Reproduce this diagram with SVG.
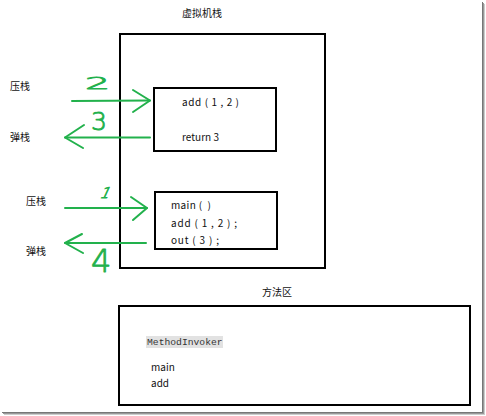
<svg xmlns="http://www.w3.org/2000/svg" width="486" height="416" viewBox="0 0 486 416">
<style>
.t{font-family:"Noto Sans CJK SC","Liberation Sans",sans-serif;font-size:10px;fill:#111}
.box{fill:none;stroke:#000;stroke-width:2}
.g{fill:none;stroke:#22b14c;stroke-width:2;stroke-linecap:round;stroke-linejoin:round}
.num{font-family:"DejaVu Sans","Liberation Sans",sans-serif;font-weight:200;fill:#22b14c;stroke:#22b14c;stroke-width:0.9;stroke-linejoin:round}
.mono{font-family:"Liberation Mono","DejaVu Sans Mono",monospace;font-size:9.7px;fill:#333}
</style>
<rect x="0" y="0" width="486" height="416" fill="#fff"/>
<g id="frame-shadow">
<line x1="482.5" y1="2" x2="482.5" y2="413" stroke="#777" stroke-width="1"/>
<line x1="483.5" y1="3" x2="483.5" y2="414" stroke="#999" stroke-width="1"/>
<line x1="484.5" y1="4" x2="484.5" y2="415" stroke="#ccc" stroke-width="1"/>
<line x1="2" y1="412.5" x2="483" y2="412.5" stroke="#777" stroke-width="1"/>
<line x1="3" y1="413.5" x2="484" y2="413.5" stroke="#999" stroke-width="1"/>
<line x1="4" y1="414.5" x2="485" y2="414.5" stroke="#ccc" stroke-width="1"/>
</g>
<g id="vm-stack">
<text class="t" x="202" y="17" text-anchor="middle">虚拟机栈</text>
<rect class="box" x="120" y="34" width="205" height="234"/>
</g>
<g id="frame-add">
<rect class="box" x="154" y="88" width="122" height="63" stroke-width="1.8"/>
<text class="t" x="182" y="106" xml:space="preserve" textLength="57" lengthAdjust="spacing">add ( 1 , 2 )</text>
<text class="t" x="182" y="141" xml:space="preserve" textLength="37" lengthAdjust="spacing">return 3</text>
</g>
<g id="frame-main">
<rect class="box" x="155" y="192" width="122" height="57" stroke-width="1.8"/>
<text class="t" x="171" y="209" xml:space="preserve" textLength="40" lengthAdjust="spacing">main (  )</text>
<text class="t" x="171" y="227" xml:space="preserve" textLength="66" lengthAdjust="spacing">add ( 1 , 2 ) ;</text>
<text class="t" x="171" y="244" xml:space="preserve" textLength="48" lengthAdjust="spacing">out ( 3 ) ;</text>
</g>
<g id="labels">
<text class="t" x="10" y="90">压栈</text>
<text class="t" x="10" y="141">弹栈</text>
<text class="t" x="26" y="205">压栈</text>
<text class="t" x="26" y="255">弹栈</text>
</g>
<g id="method-area">
<text class="t" x="277" y="296" text-anchor="middle">方法区</text>
<rect class="box" x="119" y="306" width="351" height="99"/>
<rect x="146" y="336" width="77" height="12" fill="#e2e2e2"/>
<text class="mono" x="147" y="345">MethodInvoker</text>
<text class="t" x="151" y="371">main</text>
<text class="t" x="151" y="387">add</text>
</g>
<g id="connectors">
<path class="g" d="M72,101 L150,100.5"/>
<path class="g" d="M133,90 L150,100.5 L133,112"/>
<path class="g" d="M150,137.5 L65,137.5"/>
<path class="g" d="M84,125 L65,137.5 L83,148"/>
<path class="g" d="M65,208 L147,208"/>
<path class="g" d="M131,197 L147,208 L133,220"/>
<path class="g" d="M146,243 L65,243"/>
<path class="g" d="M82,234 L65,243 L83,253"/>
</g>
<g id="step-numbers">
<text class="num" font-size="18" transform="translate(85,89) scale(2.2,0.85)">2</text>
<text class="num" font-size="25" x="91" y="130">3</text>
<text class="num" font-size="15" transform="translate(99,198) skewX(-25)">1</text>
<text class="num" font-size="32" x="91" y="272">4</text>
</g>
</svg>
